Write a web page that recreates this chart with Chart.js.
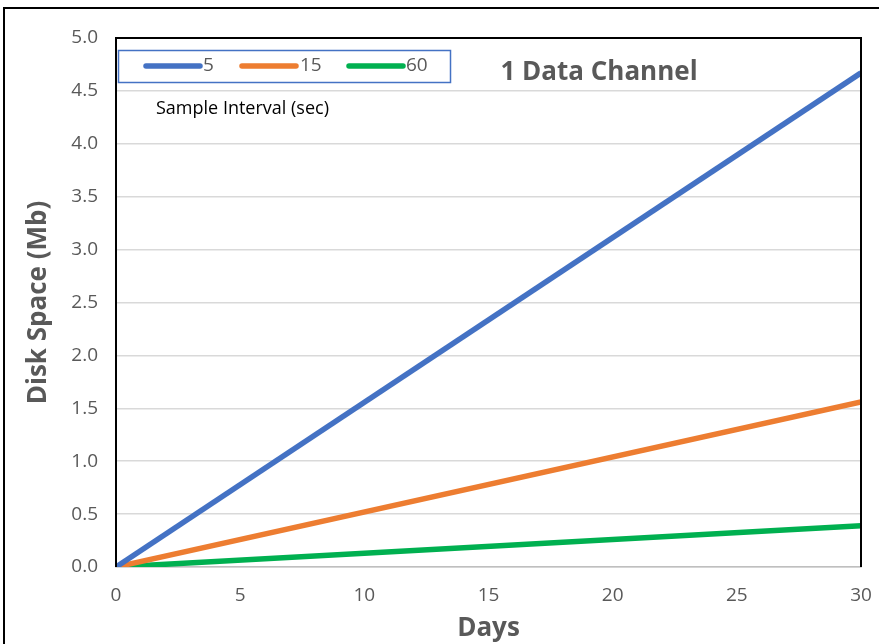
<!DOCTYPE html>
<html lang="en">
<head>
    <meta charset="UTF-8">
    <script src="https://cdn.jsdelivr.net/npm/chart.js@4.4.1/dist/chart.umd.min.js"></script>
    <title>Disk Space</title>
    <style>
        body { margin: 0; background: #fff; }
        #wrap { position: relative; width: 879px; height: 644px; overflow: hidden; }
        #frame { position: absolute; left: 3px; top: 7px; width: 920px; height: 700px; border: 2px solid #000; }
        canvas { position: absolute; left: 0; top: 0; }
    </style>
</head>
<body>
    <div id="wrap">
        <div id="frame"></div>
        <canvas id="chart" width="879" height="644"></canvas>
    </div>
    <script>
        // days and disk space (Mb) per sample interval
        const days = [0, 30];
        const space5 = [0, 4.67];
        const space15 = [0, 1.56];
        const space60 = [0, 0.39];
        const seriesLabels = ['5', '15', '60'];
        const colors = ['#4472C4', '#ED7D31', '#00B050'];

        const gray = '#595959';
        const font = '"Open Sans", "DejaVu Sans", sans-serif';

        function pts(vals) {
            return days.map((d, i) => ({ x: d, y: vals[i] }));
        }

        const decor = {
            id: 'decor',
            afterDraw(chart) {
                const c = chart.ctx;
                const a = chart.chartArea;
                c.save();
                // plot border (left, top, right)
                c.strokeStyle = '#000';
                c.lineWidth = 2;
                c.beginPath();
                c.moveTo(a.left, a.bottom);
                c.lineTo(a.left, a.top);
                c.lineTo(a.right, a.top);
                c.lineTo(a.right, a.bottom);
                c.stroke();

                // legend box
                c.strokeStyle = '#4472C4';
                c.lineWidth = 1.5;
                c.strokeRect(118.5, 50.5, 332, 32);
                const items = [[146, 203], [242, 300], [349, 406]];
                c.font = '19px ' + font;
                c.textBaseline = 'middle';
                c.lineCap = 'round';
                chart.data.datasets.forEach((ds, i) => {
                    c.strokeStyle = ds.borderColor;
                    c.lineWidth = 5.5;
                    c.beginPath();
                    c.moveTo(items[i][0], 66);
                    c.lineTo(items[i][0] + 54, 66);
                    c.stroke();
                    c.fillStyle = gray;
                    c.fillText(ds.label, items[i][1], 66);
                });

                c.fillStyle = '#000';
                c.font = '18px ' + font;
                c.fillText('Sample Interval (sec)', 156, 109);

                c.fillStyle = gray;
                c.font = 'bold 26px ' + font;
                c.textAlign = 'center';
                c.fillText('1 Data Channel', 599, 73);
                c.restore();
            }
        };

        new Chart(document.getElementById('chart'), {
            type: 'line',
            data: {
                datasets: [space5, space15, space60].map((v, i) => ({
                    label: seriesLabels[i],
                    data: pts(v),
                    borderColor: colors[i],
                    backgroundColor: colors[i],
                    borderWidth: 5.5,
                    pointRadius: 0,
                    fill: false
                }))
            },
            options: {
                responsive: false,
                animation: false,
                layout: { padding: { left: 0, right: 18, top: 38, bottom: 0 } },
                plugins: { legend: { display: false }, tooltip: { enabled: false } },
                scales: {
                    x: {
                        type: 'linear',
                        min: 0,
                        max: 30,
                        ticks: { stepSize: 5, color: gray, font: { size: 19, family: font }, padding: 17 },
                        grid: { display: false, drawTicks: false },
                        border: { display: true, color: '#BFBFBF', width: 1.5 },
                        title: { display: true, text: 'Days', color: gray, font: { size: 26, weight: 'bold', family: font }, padding: { top: 6, bottom: 0 } },
                        afterFit(s) {
                            s.height = 77;
                            s.paddingLeft = 0;
                            s.paddingRight = 0;
                        }
                    },
                    y: {
                        min: 0,
                        max: 5,
                        ticks: { stepSize: 0.5, color: gray, font: { size: 19, family: font }, padding: 18, callback: v => v.toFixed(1) },
                        grid: { color: '#D9D9D9', lineWidth: 1.5, drawTicks: false },
                        border: { display: false },
                        title: { display: true, text: 'Disk Space (Mb)', color: gray, font: { size: 26, weight: 'bold', family: font }, padding: { top: 23, bottom: 4 } },
                        afterFit(s) {
                            s.width = 116;
                            s.paddingTop = 0;
                            s.paddingBottom = 0;
                        }
                    }
                }
            },
            plugins: [decor]
        });
    </script>
</body>
</html>
